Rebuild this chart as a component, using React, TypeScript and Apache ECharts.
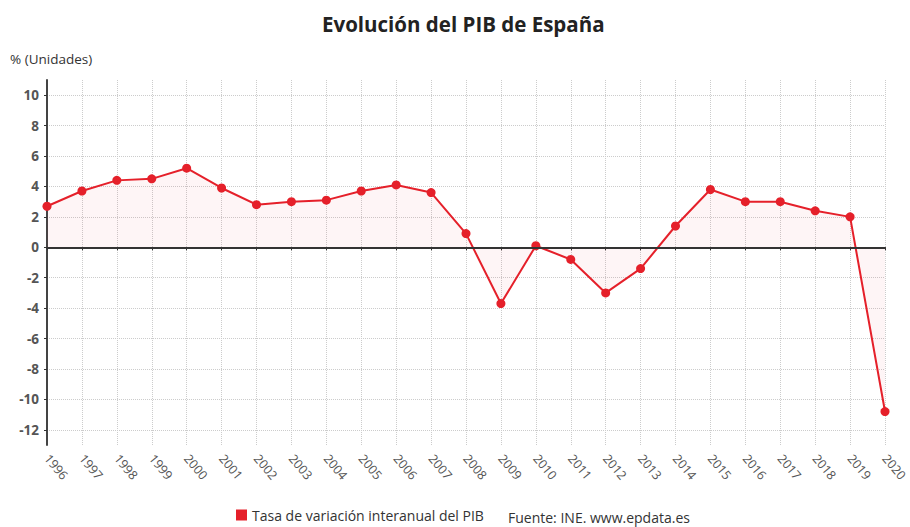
import React, { useEffect, useRef } from "react";
import * as echarts from "echarts";

const years = [
  "1996", "1997", "1998", "1999", "2000", "2001", "2002", "2003", "2004", "2005",
  "2006", "2007", "2008", "2009", "2010", "2011", "2012", "2013", "2014", "2015",
  "2016", "2017", "2018", "2019", "2020",
];
const pibValues = [
  2.7, 3.7, 4.4, 4.5, 5.2, 3.9, 2.8, 3.0, 3.1, 3.7,
  4.1, 3.6, 0.9, -3.7, 0.1, -0.8, -3.0, -1.4, 1.4, 3.8,
  3.0, 3.0, 2.4, 2.0, -10.8,
];
const yTicks = [-12, -10, -8, -6, -4, -2, 0, 2, 4, 6, 8, 10];

const FONT = "'Open Sans', 'Noto Sans', sans-serif";

export default function App() {
  const ref = useRef<HTMLDivElement>(null);
  useEffect(() => {
    document.body.style.margin = "0";
    if (!ref.current) return;
    const chart = echarts.init(ref.current, undefined, { renderer: "svg" });
    chart.setOption({
      animation: false,
      backgroundColor: "#ffffff",
      textStyle: { fontFamily: FONT },
      title: {
        text: "Evolución del PIB de España",
        left: 317,
        top: 8,
        textStyle: { fontFamily: FONT, fontSize: 20.5, fontWeight: "bold", color: "#222" },
      },
      grid: {
        left: 47,
        right: 25,
        top: 80,
        bottom: 82,
        containLabel: false,
        outerBoundsMode: "none",
      },
      legend: {
        data: [{ name: "Tasa de variación interanual del PIB", icon: "rect" }],
        left: 231,
        bottom: 0,
        itemWidth: 11,
        itemHeight: 11,
        itemGap: 6,
        textStyle: { fontFamily: FONT, fontSize: 14, color: "#333" },
      },
      graphic: [
        {
          type: "text",
          left: 10,
          top: 52,
          style: { text: "% (Unidades)", font: `13.5px ${FONT}`, fill: "#333" },
        },
        {
          type: "text",
          left: 508,
          top: 510,
          style: { text: "Fuente: INE. www.epdata.es", font: `14px ${FONT}`, fill: "#333" },
        },
      ],
      xAxis: {
        type: "category",
        data: years,
        boundaryGap: false,
        axisLine: { show: true, lineStyle: { color: "#333", width: 2 } },
        axisTick: { show: true, length: 3, lineStyle: { color: "#333" } },
        axisLabel: {
          rotate: -50,
          color: "#555",
          fontSize: 12.5,
          lineHeight: 13,
          fontFamily: FONT,
          margin: 11,
        },
        splitLine: { show: true, lineStyle: { color: "#ccc", type: "dotted", width: 1 } },
      },
      yAxis: {
        type: "value",
        min: -13,
        max: 11,
        axisLine: { show: true, lineStyle: { color: "#444", width: 2 } },
        axisTick: { show: true, length: 3, customValues: yTicks, lineStyle: { color: "#333" } },
        axisLabel: {
          customValues: yTicks,
          color: "#555",
          fontSize: 13.5,
          fontWeight: "bold",
          fontFamily: FONT,
          margin: 8,
        },
        splitLine: { show: true, lineStyle: { color: "#ccc", type: "dotted", width: 1 } },
      },
      series: [
        {
          name: "Tasa de variación interanual del PIB",
          type: "line",
          data: pibValues,
          symbol: "circle",
          symbolSize: 9,
          itemStyle: { color: "#e5202a" },
          lineStyle: { color: "#e5202a", width: 2 },
          areaStyle: { color: "rgba(229,32,42,0.06)", origin: 0 },
          markLine: {
            silent: true,
            symbol: "none",
            label: { show: false },
            lineStyle: { color: "#333", width: 2, type: "solid" },
            data: [{ yAxis: 0 }],
          },
        },
      ],
    });
    return () => chart.dispose();
  }, []);
  return <div ref={ref} style={{ width: 910, height: 527 }} />;
}
